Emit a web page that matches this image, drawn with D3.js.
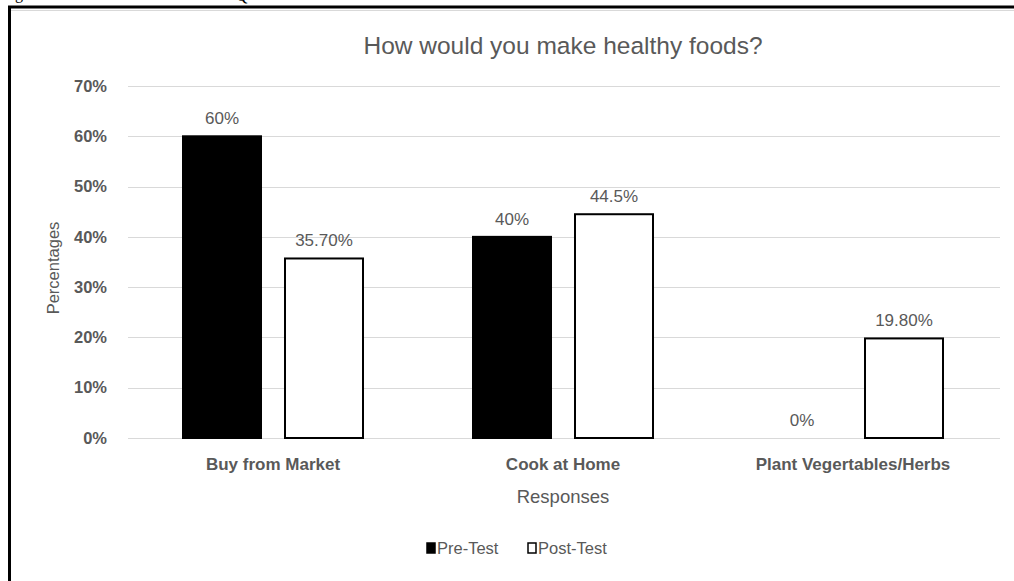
<!DOCTYPE html>
<html>
<head>
<meta charset="utf-8">
<script src="https://cdn.jsdelivr.net/npm/d3@7"></script>
<style>
  body { margin: 0; background: #fff; }
  svg text { font-family: "Liberation Sans", Arial, sans-serif; }
</style>
</head>
<body>
<svg id="chart" width="1014" height="581"></svg>
<script>
// data
let categories = ["Buy from Market", "Cook at Home", "Plant Vegertables/Herbs"];
let seriesNames = ["Pre-Test", "Post-Test"];
let preTest = [0.60, 0.40, 0.0];
let postTest = [0.357, 0.445, 0.198];
let preLabels = ["60%", "40%", "0%"];
let postLabels = ["35.70%", "44.5%", "19.80%"];
let yTicks = [0, 0.1, 0.2, 0.3, 0.4, 0.5, 0.6, 0.7];

let svg = d3.select("#chart");
let textGrey = "#595959";
let gridGrey = "#d9d9d9";

// bits of the page around the chart (cut off at the top, as in the scan)
svg.append("text").attr("x", 15).attr("y", -1)
    .style("font-family", "Liberation Serif, serif").style("font-size", "16px").text("g");
svg.append("text").attr("x", 236).attr("y", 1)
    .style("font-family", "Liberation Serif, serif").style("font-size", "16px").text("Q");

// frame
svg.append("line").attr("x1", 8).attr("x2", 1014).attr("y1", 7).attr("y2", 7)
    .attr("stroke", "black").attr("stroke-width", 3);
svg.append("line").attr("x1", 9.5).attr("x2", 9.5).attr("y1", 6).attr("y2", 581)
    .attr("stroke", "black").attr("stroke-width", 3);
svg.append("line").attr("x1", 11).attr("x2", 1014).attr("y1", 10.5).attr("y2", 10.5)
    .attr("stroke", gridGrey).attr("stroke-width", 1);

let plot = {left: 128, right: 998, top: 86, bottom: 438};

let y = d3.scaleLinear().domain([0, 0.7]).range([plot.bottom, plot.top]);
let x0 = d3.scaleBand().domain(categories).range([plot.left, plot.right]);
let x1 = d3.scaleBand().domain(seriesNames).range([54, 236]).paddingInner(0.2157);

// grid
svg.append("g")
    .selectAll("line")
    .data(yTicks)
    .enter()
    .append("line")
    .attr("x1", plot.left)
    .attr("x2", plot.right + 2)
    .attr("y1", d => Math.round(y(d)) + 0.5)
    .attr("y2", d => Math.round(y(d)) + 0.5)
    .attr("stroke", gridGrey)
    .attr("stroke-width", 1);

// y axis
let yAxis = svg.append("g")
    .attr("transform", "translate(" + (plot.left - 21) + ",0)")
    .call(d3.axisLeft(y).tickValues(yTicks).tickSize(0).tickPadding(0).tickFormat(d3.format(".0%")));
yAxis.select(".domain").remove();
yAxis.selectAll("text")
    .attr("fill", textGrey)
    .style("font-size", "16.5px")
    .style("font-weight", "bold")
    .style("font-family", "Liberation Sans, Arial, sans-serif");

// x axis
let xAxis = svg.append("g")
    .attr("transform", "translate(0," + (plot.bottom + 20) + ")")
    .call(d3.axisBottom(x0).tickSize(0).tickPadding(0));
xAxis.select(".domain").remove();
xAxis.selectAll("text")
    .attr("fill", textGrey)
    .style("font-size", "17px")
    .style("font-weight", "bold")
    .style("font-family", "Liberation Sans, Arial, sans-serif");

let rows = categories.map((c, i) => ({
    cat: c,
    values: [
        {series: "Pre-Test", v: preTest[i], label: preLabels[i]},
        {series: "Post-Test", v: postTest[i], label: postLabels[i]}
    ]
}));

let groups = svg.append("g").selectAll("g")
    .data(rows)
    .enter()
    .append("g")
    .attr("transform", d => "translate(" + x0(d.cat) + ",0)");

groups.selectAll("rect")
    .data(d => d.values)
    .enter()
    .append("rect")
    .attr("x", d => x1(d.series) + 1)
    .attr("y", d => y(d.v))
    .attr("width", x1.bandwidth() - 2)
    .attr("height", d => y(0) - y(d.v))
    .attr("fill", d => d.series == "Pre-Test" ? "black" : "white")
    .attr("stroke", d => d.series == "Pre-Test" ? (d.v > 0 ? "black" : "none") : "black")
    .attr("stroke-width", 2);

groups.selectAll("text.val")
    .data(d => d.values)
    .enter()
    .append("text")
    .attr("class", "val")
    .attr("x", d => x1(d.series) + x1.bandwidth() / 2)
    .attr("y", d => y(d.v) - 12)
    .attr("text-anchor", "middle")
    .attr("fill", textGrey)
    .style("font-size", "17px")
    .text(d => d.label);

// titles
svg.append("text")
    .attr("x", (plot.left + plot.right) / 2)
    .attr("y", 54)
    .attr("text-anchor", "middle")
    .attr("fill", textGrey)
    .style("font-size", "24.5px")
    .text("How would you make healthy foods?");

svg.append("text")
    .attr("transform", "translate(59," + ((plot.top + plot.bottom) / 2 + 6) + ") rotate(-90)")
    .attr("text-anchor", "middle")
    .attr("fill", textGrey)
    .style("font-size", "16.5px")
    .text("Percentages");

svg.append("text")
    .attr("x", (plot.left + plot.right) / 2)
    .attr("y", 503)
    .attr("text-anchor", "middle")
    .attr("fill", textGrey)
    .style("font-size", "18.5px")
    .text("Responses");

// legend
let legend = svg.append("g").attr("transform", "translate(426,548)");
let legendItems = legend.selectAll("g")
    .data(seriesNames)
    .enter()
    .append("g")
    .attr("transform", (d, i) => "translate(" + (i * 101) + ",0)");
legendItems.append("rect")
    .attr("x", 1).attr("y", -5).attr("width", 8).attr("height", 10)
    .attr("fill", d => d == "Pre-Test" ? "black" : "white")
    .attr("stroke", "black").attr("stroke-width", 1.5);
legendItems.append("text")
    .attr("x", 11).attr("y", 6)
    .attr("fill", textGrey)
    .style("font-size", "16.5px")
    .text(d => d);
</script>
</body>
</html>
